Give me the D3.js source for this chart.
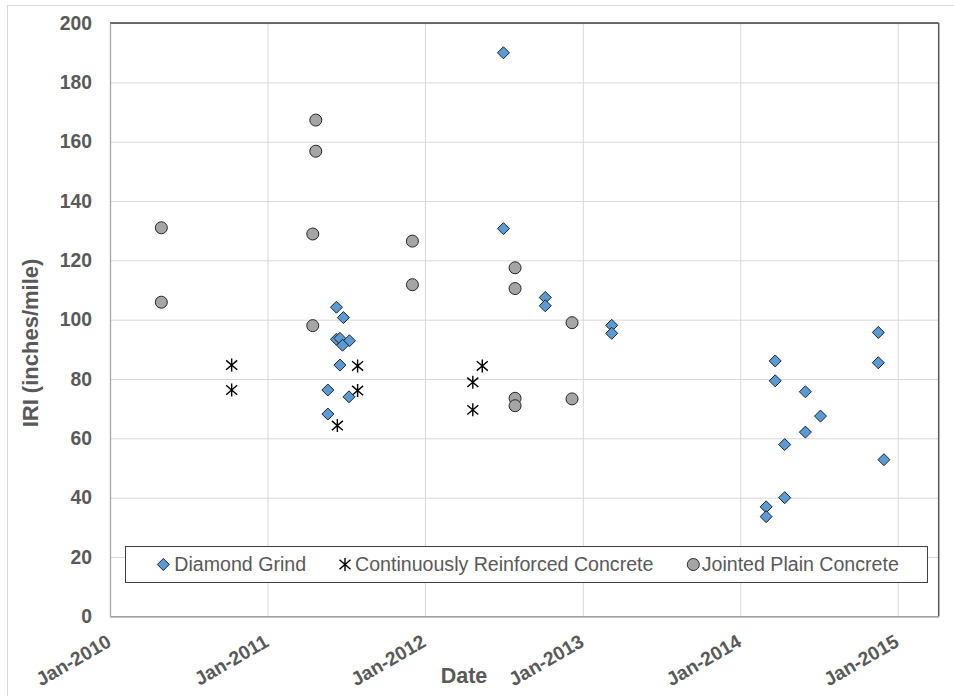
<!DOCTYPE html>
<html>
<head>
<meta charset="utf-8">
<script src="https://cdn.jsdelivr.net/npm/d3@7/dist/d3.min.js"></script>
<style>
  html, body { margin: 0; padding: 0; background: #fff; }
  svg { display: block; }
  text { font-family: "Liberation Sans", Arial, sans-serif; }
</style>
</head>
<body>
<svg id="chart" width="954" height="696"></svg>
<script>
// ---- Data ----
const seriesNames = ["Diamond Grind", "Continuously Reinforced Concrete", "Jointed Plain Concrete"];

const dgDates = ["2011-06-10","2011-06-10","2011-06-26","2011-06-18","2011-06-18","2011-07-10","2011-06-24","2011-05-21","2011-05-21","2011-07-09",
                 "2012-07-01","2012-07-01","2012-10-06","2012-10-06","2013-03-09","2013-03-09",
                 "2014-03-02","2014-03-02","2014-03-23","2014-03-23","2014-04-14","2014-04-14","2014-06-01","2014-06-01","2014-07-06","2014-11-17","2014-11-17","2014-11-30"];
const dgValues = [104.2, 93.4, 100.7, 93.7, 84.7, 92.9, 91.4, 76.3, 68.2, 74.0,
                  190.0, 130.7, 107.5, 104.7, 98.1, 95.4,
                  36.9, 33.6, 86.1, 79.4, 57.9, 40.0, 75.7, 62.1, 67.5, 95.7, 85.5, 52.8];

const crcDates = ["2010-10-10","2010-10-10","2011-06-12","2011-07-29","2011-07-29","2012-04-21","2012-04-21","2012-05-13"];
const crcValues = [84.7, 76.3, 64.3, 84.4, 76.1, 78.9, 69.6, 84.4];

const jpcDates = ["2010-04-30","2010-04-30","2011-04-16","2011-04-16","2011-04-23","2011-04-23","2011-12-03","2011-12-03",
                  "2012-07-28","2012-07-28","2012-07-28","2012-07-28","2012-12-07","2012-12-07"];
const jpcValues = [131.0, 105.9, 128.9, 98.0, 167.3, 156.8, 126.5, 111.8,
                   117.5, 110.5, 73.5, 71.0, 99.0, 73.3];

const xDomain = ["2010-01-01", "2015-04-06"];
const yDomain = [0, 200];
const yTicks = [0, 20, 40, 60, 80, 100, 120, 140, 160, 180, 200];
const xTitle = "Date";
const yTitle = "IRI (inches/mile)";

// ---- Layout ----
const W = 954, H = 696;
const plot = { left: 110, right: 938.7, top: 23.1, bottom: 616.3 };
const textColor = "#595959";
const font = '"Liberation Sans", Arial, sans-serif';

const parse = d3.utcParse("%Y-%m-%d");
const svg = d3.select("#chart");

// outer chart border
svg.append("rect").attr("x", 7.5).attr("y", 5.5).attr("width", W + 10).attr("height", H + 10)
  .attr("fill", "#fff").attr("stroke", "#d9d9d9").attr("stroke-width", 1);

const x = d3.scaleUtc().domain(xDomain.map(parse)).range([plot.left, plot.right]);
const y = d3.scaleLinear().domain(yDomain).range([plot.bottom, plot.top]);

const yearTicks = x.ticks(d3.utcYear.every(1));

// gridlines
svg.append("g")
  .attr("transform", `translate(${plot.left},0)`)
  .call(d3.axisLeft(y).tickValues(yTicks).tickSize(-(plot.right - plot.left)).tickFormat(""))
  .call(g => g.select(".domain").remove())
  .call(g => g.selectAll(".tick line").attr("stroke", "#d9d9d9").attr("stroke-width", 1));

svg.append("g")
  .attr("transform", `translate(0,${plot.bottom})`)
  .call(d3.axisBottom(x).tickValues(yearTicks).tickSize(-(plot.bottom - plot.top)).tickFormat(""))
  .call(g => g.select(".domain").remove())
  .call(g => g.selectAll(".tick line").attr("stroke", "#d9d9d9").attr("stroke-width", 1));

// plot border: top & right dark
svg.append("line").attr("x1", plot.left).attr("x2", plot.right).attr("y1", plot.top).attr("y2", plot.top)
  .attr("stroke", "#404040").attr("stroke-width", 1.5);
svg.append("line").attr("x1", plot.right).attr("x2", plot.right).attr("y1", plot.top).attr("y2", plot.bottom)
  .attr("stroke", "#595959").attr("stroke-width", 1.5);

// y axis
svg.append("g")
  .attr("transform", `translate(${plot.left},0)`)
  .call(d3.axisLeft(y).tickValues(yTicks).tickSize(0).tickPadding(18))
  .call(g => g.select(".domain").attr("stroke", "#a6a6a6").attr("stroke-width", 1.3))
  .call(g => g.selectAll(".tick text")
    .attr("fill", textColor).attr("font-family", font).attr("font-size", "19.3px").attr("font-weight", "bold"));

// x axis
svg.append("g")
  .attr("transform", `translate(0,${plot.bottom})`)
  .call(d3.axisBottom(x).tickValues(yearTicks).tickSize(0).tickFormat(d3.utcFormat("%b-%Y")))
  .call(g => g.select(".domain").attr("stroke", "#8c8c8c").attr("stroke-width", 1.3))
  .call(g => g.selectAll(".tick text")
    .attr("fill", textColor).attr("font-family", font).attr("font-size", "19.3px").attr("font-weight", "bold")
    .attr("text-anchor", "end").attr("y", 0).attr("dy", 0)
    .attr("transform", "translate(2,29) rotate(-30)"));

// axis titles
svg.append("text").attr("x", 464).attr("y", 683).attr("text-anchor", "middle")
  .attr("fill", textColor).attr("font-size", "21.5px").attr("font-weight", "bold").attr("font-family", font)
  .text(xTitle);
svg.append("text").attr("transform", "translate(37.5,343) rotate(-90)").attr("text-anchor", "middle")
  .attr("fill", textColor).attr("font-size", "22px").attr("font-weight", "bold").attr("font-family", font)
  .text(yTitle);

// markers
const diamondSym = d3.symbol().type(d3.symbolSquare).size(72);
const circleSym = d3.symbol().type(d3.symbolCircle).size(Math.PI * 36);
const starType = {
  draw(ctx, size) {
    const r = Math.sqrt(size) / 2;
    ctx.moveTo(0, -r); ctx.lineTo(0, r);
    ctx.moveTo(-r * 0.85, -r * 0.72); ctx.lineTo(r * 0.85, r * 0.72);
    ctx.moveTo(-r * 0.85, r * 0.72); ctx.lineTo(r * 0.85, -r * 0.72);
  }
};
const starSym = d3.symbol().type(starType).size(169);

const dgData = dgDates.map((d, i) => ({ date: parse(d), v: dgValues[i] }));
const crcData = crcDates.map((d, i) => ({ date: parse(d), v: crcValues[i] }));
const jpcData = jpcDates.map((d, i) => ({ date: parse(d), v: jpcValues[i] }));

svg.append("g").selectAll("path").data(jpcData).join("path")
  .attr("d", circleSym)
  .attr("transform", d => `translate(${x(d.date)},${y(d.v)})`)
  .attr("fill", "#a5a5a5").attr("stroke", "#262626").attr("stroke-width", 1);

svg.append("g").selectAll("path").data(crcData).join("path")
  .attr("d", starSym)
  .attr("transform", d => `translate(${x(d.date)},${y(d.v)})`)
  .attr("fill", "none").attr("stroke", "#000").attr("stroke-width", 1.4);

svg.append("g").selectAll("path").data(dgData).join("path")
  .attr("d", diamondSym)
  .attr("transform", d => `translate(${x(d.date)},${y(d.v)}) rotate(45)`)
  .attr("fill", "#5b9bd5").attr("stroke", "#1a1a1a").attr("stroke-width", 0.9);

// legend
const lg = svg.append("g");
lg.append("rect").attr("x", 125.5).attr("y", 546.5).attr("width", 802).attr("height", 36)
  .attr("fill", "#fff").attr("stroke", "#404040").attr("stroke-width", 1);
const legendItems = [
  { name: seriesNames[0], mx: 163.3, tx: 174.3, kind: "dg" },
  { name: seriesNames[1], mx: 345, tx: 355, kind: "crc" },
  { name: seriesNames[2], mx: 693.3, tx: 701.7, kind: "jpc" }
];
const ly = 564.5;
legendItems.forEach(it => {
  const m = lg.append("path");
  if (it.kind === "dg") {
    m.attr("d", diamondSym).attr("transform", `translate(${it.mx},${ly}) rotate(45)`)
      .attr("fill", "#5b9bd5").attr("stroke", "#1a1a1a").attr("stroke-width", 0.9);
  } else if (it.kind === "crc") {
    m.attr("d", starSym).attr("transform", `translate(${it.mx},${ly})`)
      .attr("fill", "none").attr("stroke", "#000").attr("stroke-width", 1.4);
  } else {
    m.attr("d", circleSym).attr("transform", `translate(${it.mx},${ly})`)
      .attr("fill", "#a5a5a5").attr("stroke", "#262626").attr("stroke-width", 1);
  }
  lg.append("text").attr("x", it.tx).attr("y", 571).attr("fill", textColor)
    .attr("font-family", font).attr("font-size", "19.6px").text(it.name);
});
</script>
</body>
</html>
